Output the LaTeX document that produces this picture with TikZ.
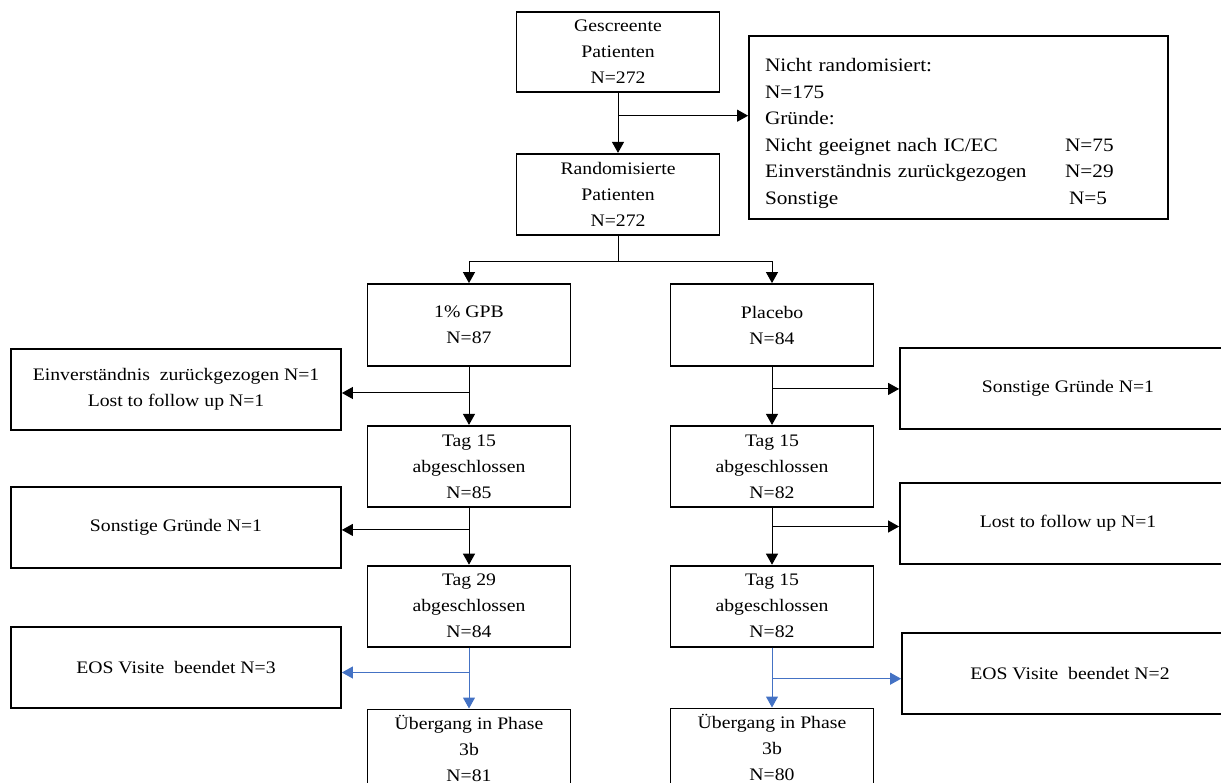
\documentclass[tikz,border=0pt]{standalone}
\usepackage{fontspec}
\setmainfont[FakeStretch=1.12]{Liberation Serif}
\usepackage{xcolor}
\usepackage{tikz}
\usetikzlibrary{arrows.meta,positioning,calc}
\definecolor{eosblue}{HTML}{4472C4}

\begin{document}
\begin{tikzpicture}[x=1pt,y=-1pt,
  box/.style={draw,line width=1.8pt,align=center,inner sep=0pt,
    minimum width=203pt,minimum height=81pt,font=\fontsize{17.6}{26}\selectfont},
  side/.style={box,minimum width=330pt},
  sider/.style={box,minimum width=336pt},
  ar/.style={-{Triangle[length=11pt,width=12pt]},line width=1pt},
  bl/.style={ar,draw=eosblue,fill=eosblue}]
\useasboundingbox (0,0) rectangle (1221,783);
% screening and randomisation
\node[box,minimum height=80pt] (scr) at (618,52) {Gescreente\\ Patienten\\ N=272};
\node[box,below=60pt of scr] (rnd) {Randomisierte\\ Patienten\\ N=272};
\node[draw,line width=1.8pt,align=left,inner xsep=16pt,inner ysep=0pt,
  minimum width=419pt,minimum height=183pt,text width=387pt,
  font=\fontsize{19}{26.6}\selectfont] (nr) at (958.5,127.5)
  {\rule{0pt}{25pt}Nicht randomisiert:\\ N=175\\ Gründe:\\
   \makebox[300pt][l]{Nicht geeignet nach IC/EC}N=75\\
   \makebox[300pt][l]{Einverständnis zurückgezogen}N=29\\
   \makebox[304pt][l]{Sonstige}N=5};
% two arms
\node[box,minimum height=82pt] (gpb) at (469,325) {1\% GPB\\ N=87};
\node[box,minimum height=82pt] (plc) at (772,325) {Placebo\\ N=84};
\node[box,below=58pt of gpb] (t15a) {Tag 15\\ abgeschlossen\\ N=85};
\node[box,below=58pt of plc] (t15b) {Tag 15\\ abgeschlossen\\ N=82};
\node[box,below=57pt of t15a] (t29) {Tag 29\\ abgeschlossen\\ N=84};
\node[box,below=57pt of t15b] (t15c) {Tag 15\\ abgeschlossen\\ N=82};
% boxes run past the lower edge
\node[box,minimum height=96pt,below=61pt of t29] (ueba)
  {Übergang in Phase\\ 3b\\ N=81\rule[-18pt]{0pt}{0pt}};
\node[box,minimum height=96pt,below=60pt of t15c] (uebb)
  {Übergang in Phase\\ 3b\\ N=80\rule[-18pt]{0pt}{0pt}};
% drop-outs
\node[side] (einv) at (176,389.5) {Einverständnis\ \ zurückgezogen N=1\\ Lost to follow up N=1};
\node[side] (sonsta) at (176,527.5) {Sonstige Gründe N=1};
\node[side] (eosa) at (176,667.5) {EOS Visite\ \ beendet N=3};
\node[sider] (sonstb) at (1068,388.5) {Sonstige Gründe N=1};
\node[sider] (lost) at (1068,523.5) {Lost to follow up N=1};
\node[sider] (eosb) at (1070,673.5) {EOS Visite\ \ beendet N=2};

\draw[ar] (scr) -- (rnd);
\coordinate (b0) at ($(scr.south)!.38!(rnd.north)$);
\draw[ar] (b0) -- (b0 -| nr.west);
\draw[line width=1pt] (rnd.south) -- ++(0,26) coordinate (sp);
\draw[ar] (sp) -| (gpb.north);
\draw[ar] (sp) -| (plc.north);

% left arm
\draw[ar] (gpb) -- (t15a);
\coordinate (b1) at ($(gpb.south)!.45!(t15a.north)$);
\draw[ar] (b1) -- (b1 -| einv.east);
\draw[ar] (t15a) -- (t29);
\coordinate (b2) at ($(t15a.south)!.39!(t29.north)$);
\draw[ar] (b2) -- (b2 -| sonsta.east);
\draw[bl] (t29) -- (ueba);
\coordinate (b3) at ($(t29.south)!.41!(ueba.north)$);
\draw[bl] (b3) -- (b3 -| eosa.east);

% right arm
\draw[ar] (plc) -- (t15b);
\coordinate (c1) at ($(plc.south)!.38!(t15b.north)$);
\draw[ar] (c1) -- (c1 -| sonstb.west);
\draw[ar] (t15b) -- (t15c);
\coordinate (c2) at ($(t15b.south)!.33!(t15c.north)$);
\draw[ar] (c2) -- (c2 -| lost.west);
\draw[bl] (t15c) -- (uebb);
\coordinate (c3) at ($(t15c.south)!.52!(uebb.north)$);
\draw[bl] (c3) -- (c3 -| eosb.west);
\end{tikzpicture}
\end{document}
